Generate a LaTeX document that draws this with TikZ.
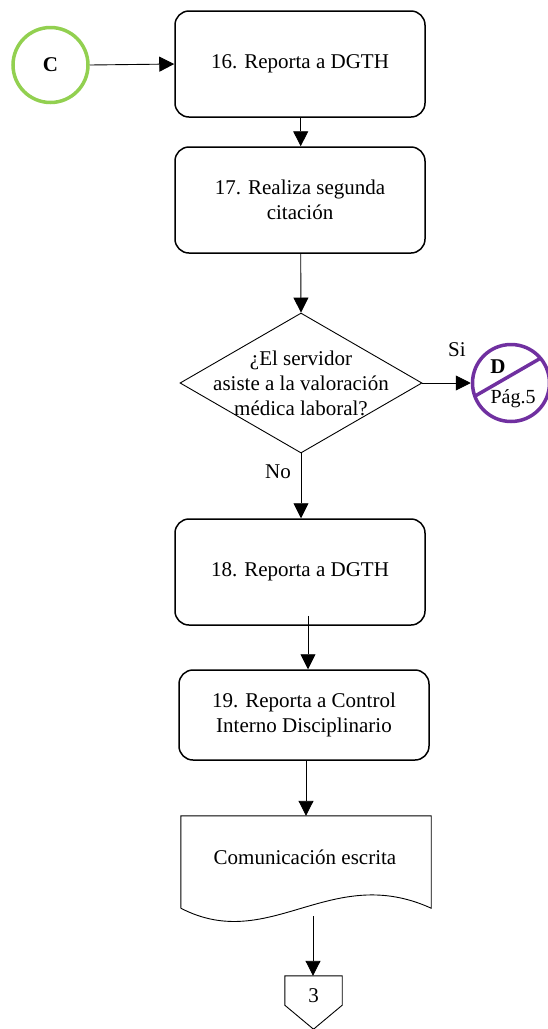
\documentclass[tikz,border=0pt]{standalone}
\usepackage{fontspec}
\setmainfont{Liberation Serif}
\usetikzlibrary{arrows.meta,shapes.geometric,calc}
\definecolor{cgreen}{HTML}{92D050}
\definecolor{cpurple}{HTML}{7030A0}
\begin{document}
\begin{tikzpicture}[x=1pt,y=-1pt,
  every node/.style={font=\fontsize{21}{25}\selectfont, align=center},
  procbox/.style={draw, line width=1.5pt, rounded corners=14pt, minimum width=250pt, inner sep=0pt},
  link/.style={draw, line width=0.9pt, -{Triangle[length=15pt,width=15pt]}},
  thin/.style={draw, line width=0.9pt},
  connector/.style={circle, line width=3.5pt, minimum size=75pt, inner sep=0pt}
]
\useasboundingbox (0,0) rectangle (548,1029);

% off-page start connector
\node[connector, draw=cgreen, font=\fontsize{21}{25}\selectfont\bfseries] (C) at (50.5,65) {C};

% process steps
\node[procbox, minimum height=106pt] (b16) at (300,64) {16. Reporta a DGTH};
\node[procbox, minimum height=106pt] (b17) at (300,200) {17. Realiza segunda\\citación};

% decision
\node[diamond, thin, minimum width=242pt, minimum height=140pt, inner sep=0pt] (dec) at (301,383) {};
\node (decq) at (dec.center) {¿El servidor\\asiste a la valoración\\médica laboral?};

% connector to page 5
\node[connector, draw=cpurple, minimum size=77pt] (D) at (511,383) {};
\draw[cpurple, line width=3.5pt] ($(D.center)+(200:38.5 and -38.5)$) -- ($(D.center)+(40:38.5 and -38.5)$);
\node[font=\fontsize{21}{25}\selectfont\bfseries] (Dl) at (498,367) {D};
\node[font=\fontsize{20}{24}\selectfont] (Dp) at (513,399) {Pág.5};

\node[procbox, minimum height=106pt] (b18) at (300,572) {18. Reporta a DGTH};
\node[procbox, minimum height=90pt] (b19) at (304,715) {19. Reporta a Control\\Interno Disciplinario};

% document
\node[minimum width=250pt, minimum height=92pt, inner sep=0pt] (doc) at (306,862) {};
\node (doct) at (305,857) {Comunicación escrita};
\draw[thin] (doc.south west) -- (doc.north west) -- (doc.north east) -- (doc.south east)
  .. controls ($(doc.south east)+(-101,-46)$) and ($(doc.south west)+(89,46)$) .. (doc.south west);

% off-page end connector
\node[minimum width=57pt, minimum height=29pt, inner sep=0pt] (off) at (313.5,990.5) {};
\draw[thin] (off.south west) -- (off.north west) -- (off.north east) -- (off.south east)
  -- ($(off.south)+(0,24)$) -- cycle;
\node (offt) at (313.5,996) {3};

% flow
\draw[link] (C.east) -- (b16.west);
\draw[link] ($(b16.south)+(0.7,0)$) -- ($(b17.north)+(0.7,0)$);
\draw[link] ($(b17.south)+(0.7,0)$) -- (dec.north);
\draw[link] (dec.east) -- (D.west);
\node (si) at (457,350) {Si};
\draw[link] (dec.south) -- (dec.south |- b18.north);
\node (no) at (278,472) {No};
\coordinate (b18o) at ($(b18.south)+(8,-10)$);
\draw[link] (b18o) -- (b18o |- b19.north);
\draw[link] ($(b19.south)+(2,0)$) -- ($(doc.north)+(0,0)$);
\coordinate (doco) at (313,916);
\draw[link] (doco) -- (doco |- off.north);
\end{tikzpicture}
\end{document}
